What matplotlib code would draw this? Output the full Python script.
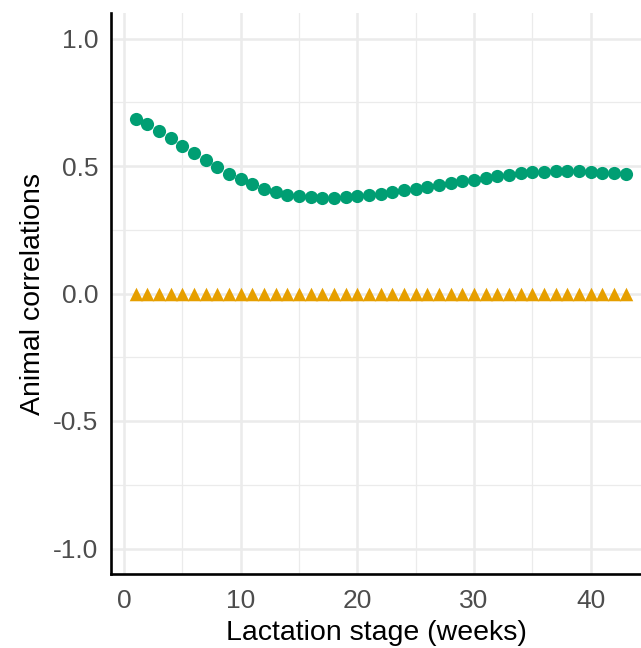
import numpy as np
import matplotlib.pyplot as plt
from matplotlib.ticker import MultipleLocator

plt.rcParams['font.family'] = ['Liberation Sans', 'DejaVu Sans']

weeks = list(range(1, 44))
corr_green = [0.686, 0.664, 0.637, 0.611, 0.580, 0.551, 0.522, 0.495, 0.470, 0.448,
              0.429, 0.411, 0.397, 0.388, 0.381, 0.378, 0.376, 0.376, 0.378, 0.381,
              0.385, 0.391, 0.398, 0.404, 0.411, 0.417, 0.424, 0.432, 0.440, 0.446,
              0.454, 0.459, 0.466, 0.471, 0.475, 0.478, 0.480, 0.480, 0.479, 0.476,
              0.474, 0.471, 0.467]
corr_orange = [0.0] * 43

fig = plt.figure(figsize=(6.41, 6.48), dpi=100)
ax = fig.add_axes([111 / 641, (648 - 574) / 648, 530 / 641, 561 / 648])

ax.scatter(weeks, corr_orange, marker='^', s=95, color='#E69F00', linewidths=0, zorder=3)
ax.scatter(weeks, corr_green, marker='o', s=90, color='#009E73', linewidths=0, zorder=3)

ax.set_xlim(-1.1, 44.3)
ax.set_ylim(-1.1, 1.1)
ax.xaxis.set_major_locator(MultipleLocator(10))
ax.xaxis.set_minor_locator(MultipleLocator(5))
ax.yaxis.set_major_locator(MultipleLocator(0.5))
ax.yaxis.set_minor_locator(MultipleLocator(0.25))
ax.yaxis.set_major_formatter(plt.FuncFormatter(lambda v, p: f'{v:.1f}'))

# ggplot-ish grid
ax.grid(which='major', color='#EBEBEB', linewidth=1.8)
ax.grid(which='minor', color='#EBEBEB', linewidth=0.9)
ax.set_axisbelow(True)

for side in ['top', 'right']:
    ax.spines[side].set_visible(False)
for side in ['left', 'bottom']:
    ax.spines[side].set_linewidth(1.9)
    ax.spines[side].set_color('black')

ax.tick_params(which='both', length=0)
ax.tick_params(axis='x', labelsize=19, labelcolor='#4D4D4D', pad=11)
ax.tick_params(axis='y', labelsize=19, labelcolor='#4D4D4D', pad=9)

ax.set_xlabel('Lactation stage (weeks)', fontsize=20.5, labelpad=5)
ax.set_ylabel('Animal correlations', fontsize=20.5, labelpad=5)

fig.savefig('out.png', dpi=100)
